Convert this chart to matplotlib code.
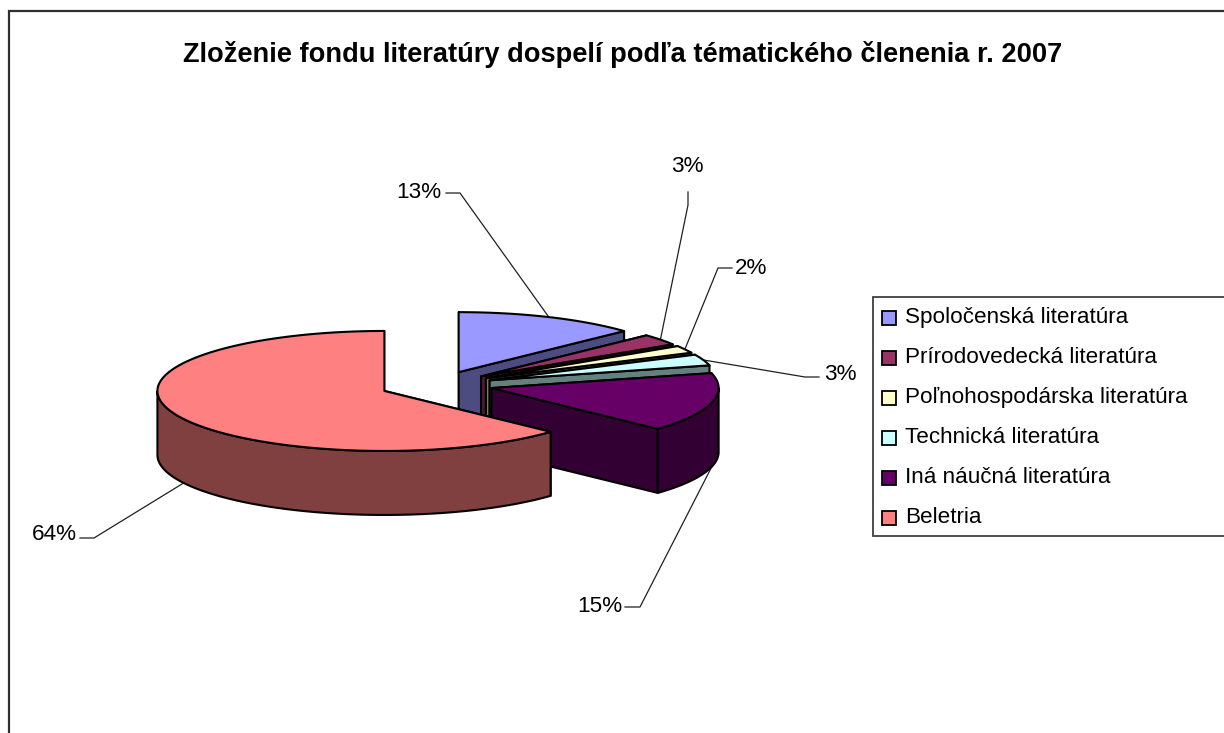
import numpy as np
import matplotlib; matplotlib.use("Agg")
import matplotlib.pyplot as plt
from matplotlib.patches import Polygon, Rectangle

plt.rcParams['font.family'] = ['Liberation Sans', 'DejaVu Sans']

TITLE = "Zloženie fondu literatúry dospelí podľa tématického členenia r. 2007"
categories = ["Spoločenská literatúra", "Prírodovedecká literatúra", "Poľnohospodárska literatúra",
              "Technická literatúra", "Iná náučná literatúra", "Beletria"]
values = [13, 3, 2, 3, 15, 64]
top_colors = ["#9999FF", "#993366", "#FFFFCC", "#CCFFFF", "#660066", "#FF8080"]
side_colors = ["#4C4C80", "#4D1A33", "#808066", "#668080", "#330033", "#804040"]

# layout, in pixels
CX, CY = 436, 385     # centre of the un-exploded pie
RX, RY = 227, 60
EX, EY = 57, 14       # explosion offset
DEPTH = 64
# label position, ha, va, elbow of the leader (two points)
label_pos = [(441, 193, "right", (446, 193), (460, 193)),
             (687, 167, "center", (688, 192), (688, 205)),
             (735, 268, "left", (732, 268), (718, 268)),
             (824, 374, "left", (819, 377), (805, 377)),
             (622, 607, "right", (625, 607), (640, 607)),
             (77, 534, "right", (80, 538), (94, 538))]

fig = plt.figure(figsize=(12.24, 7.33), dpi=100)
ax = fig.add_axes([0, 0, 1, 1])
ax.set_xlim(0, 1224); ax.set_ylim(733, 0); ax.axis("off")

def warp(t):
    """excel's 3d view pushes the front corners round a little"""
    t = np.asarray(t, dtype=float)
    return t + np.where((t > 90) & (t < 270), 3.4*np.sin(np.radians(2*(t-90))), 0.0)

def rim(ax0, ay0, t):
    w = np.radians(warp(t))
    return ax0 + RX*np.sin(w), ay0 - RY*np.cos(w)

ax.add_patch(Rectangle((8.5, 10.5), 1400, 900, fc="white", ec="#303030", lw=1.6, zorder=0))

edges = np.cumsum([0] + values) * 3.6
LW = 1.5
anchors = []
for i in range(len(values)):
    t0, t1 = edges[i], edges[i+1]
    mid = np.radians((t0+t1)/2)
    ax0 = CX + EX*np.sin(mid); ay0 = CY - EY*np.cos(mid)
    ts = np.linspace(t0, t1, max(int(t1-t0)*2, 4))
    xs, ys = rim(ax0, ay0, ts)
    kw = dict(ec="black", lw=LW, joinstyle="round", zorder=2+i)
    # cut faces
    for k in (0, -1):
        ax.add_patch(Polygon([(ax0, ay0), (xs[k], ys[k]), (xs[k], ys[k]+DEPTH), (ax0, ay0+DEPTH)],
                             fc=side_colors[i], **kw))
    # outer wall, front part only
    front = (ts >= 90) & (ts <= 270)
    if front.sum() > 1:
        fx, fy = xs[front], ys[front]
        ax.add_patch(Polygon(np.r_[np.c_[fx, fy], np.c_[fx, fy+DEPTH][::-1]], fc=side_colors[i], **kw))
    ax.add_patch(Polygon(np.r_[[(ax0, ay0)], np.c_[xs, ys]], fc=top_colors[i], **kw))
    mx, my = rim(ax0, ay0, (t0+t1)/2)
    anchors.append((float(mx), float(my + (DEPTH if 90 < (t0+t1)/2 < 270 else 0))))

for v, a, (lx, ly, ha, e0, e1) in zip(values, anchors, label_pos):
    ax.plot([e0[0], e1[0], a[0]], [e0[1], e1[1], a[1]], color="#202020", lw=0.9, zorder=1)
    ax.text(lx, ly, f"{v}%", ha=ha, va="center", fontsize=16.2, color="black")

ax.text(623, 54, TITLE, ha="center", va="center", fontsize=19.6, fontweight="bold", color="black")

# legend runs off the right edge like in the original
ax.add_patch(Rectangle((872.5, 297), 500, 239, fc="white", ec="#404040", lw=1.3, zorder=10))
for i, name in enumerate(categories):
    y = 317.5 + 40*i
    ax.add_patch(Rectangle((882, y-6.5), 14, 14, fc=top_colors[i], ec="black", lw=1.3, zorder=11))
    ax.text(905, y, name, ha="left", va="center", fontsize=16.2, color="black", zorder=11)

fig.savefig("out.png", dpi=100)
